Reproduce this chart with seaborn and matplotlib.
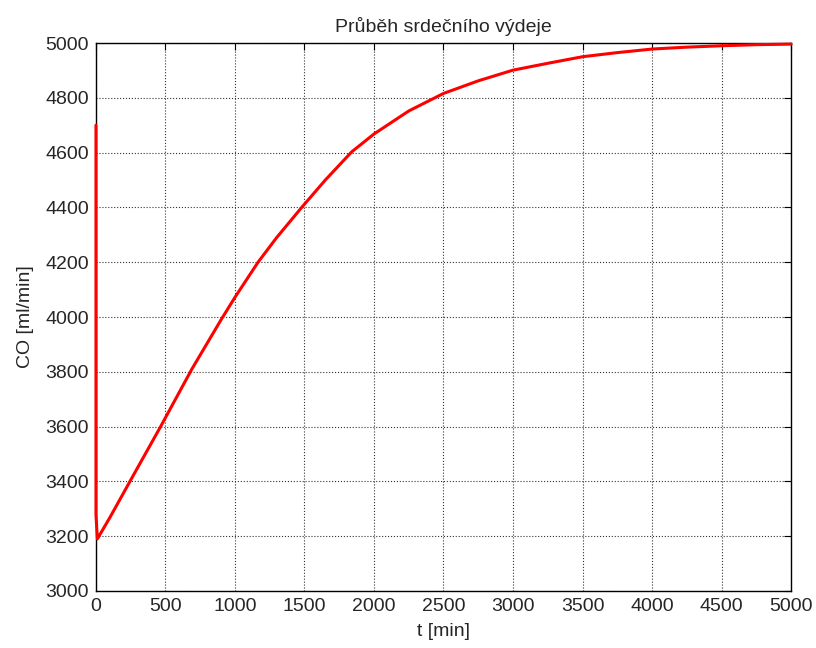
import numpy as np
import pandas as pd
import seaborn as sns
import matplotlib
matplotlib.use("Agg")
import matplotlib.pyplot as plt

# values
t_min = [0, 0, 10, 100, 250, 465, 690, 900, 1000, 1166, 1300, 1480, 1650, 1840,
         2000, 2250, 2500, 2750, 3000, 3250, 3500, 3750, 4000, 4250, 4500, 4750, 5000]
co_ml = [4700, 3280, 3190, 3268, 3405, 3600, 3810, 3990, 4072, 4200, 4290, 4400,
         4500, 4603, 4668, 4752, 4816, 4862, 4901, 4926, 4950, 4965, 4978, 4985,
         4990, 4994, 4996]

x_ticks = list(range(0, 5001, 500))
y_ticks = list(range(3000, 5001, 200))

df = pd.DataFrame({"t": t_min, "co": co_ml})

sns.set_style("white")
plt.rcParams["font.family"] = ["Liberation Sans", "DejaVu Sans"]

fig = plt.figure(figsize=(8.16, 6.48), dpi=100)
ax = fig.add_axes([0.1176, 0.088, 0.8518, 0.8456])

sns.lineplot(data=df, x="t", y="co", sort=False, color="red", linewidth=2.2,
             ax=ax, estimator=None)
for ln in ax.lines:
    ln.set_zorder(5)
    ln.set_clip_on(False)

ax.set_xlim(0, 5000)
ax.set_ylim(3000, 5000)
ax.set_xticks(x_ticks)
ax.set_yticks(y_ticks)
ax.grid(True, color="#333333", linestyle=":", linewidth=0.8)
ax.tick_params(direction="in", top=True, right=True, labelsize=14, length=5,
               color="black", pad=5)
for s in ax.spines.values():
    s.set_color("black")
    s.set_linewidth(1.0)

ax.set_xlabel("t [min]", fontsize=14, labelpad=6)
ax.set_ylabel("CO [ml/min]", fontsize=14, labelpad=8)
ax.set_title("Průběh srdečního výdeje", fontsize=14, pad=8)

fig.savefig("out.png", dpi=100)
